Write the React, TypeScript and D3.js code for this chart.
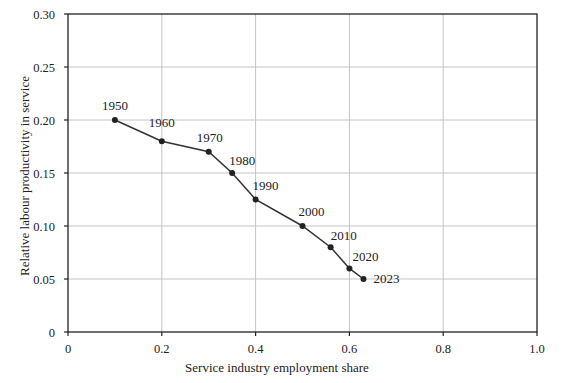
import React from "react";
import * as d3 from "d3";

const years = ["1950", "1960", "1970", "1980", "1990", "2000", "2010", "2020", "2023"];
const employmentShare = [0.1, 0.2, 0.3, 0.35, 0.4, 0.5, 0.56, 0.6, 0.63];
const productivity = [0.2, 0.18, 0.17, 0.15, 0.125, 0.1, 0.08, 0.06, 0.05];
const labelDx = [0, 0, 1, 10, 10, 9, 13, 16, 10];
const labelDy = [-10, -14, -10, -8, -10, -10, -7, -7, 4];
const xTicks = [0, 0.2, 0.4, 0.6, 0.8, 1.0];
const xTickLabels = ["0", "0.2", "0.4", "0.6", "0.8", "1.0"];
const yTicks = [0, 0.05, 0.1, 0.15, 0.2, 0.25, 0.3];
const yTickLabels = ["0", "0.05", "0.10", "0.15", "0.20", "0.25", "0.30"];

const W = 572, H = 383;
const left = 68, right = 537, top = 14, bottom = 332;
const font = "'Liberation Serif', 'Times New Roman', serif";

export default function App() {
  const x = d3.scaleLinear().domain([0, 1]).range([left, right]);
  const y = d3.scaleLinear().domain([0, 0.3]).range([bottom, top]);
  const pts = years.map((yr, i) => ({ yr, x: employmentShare[i], y: productivity[i], i }));
  const line = d3.line<typeof pts[0]>().x(d => x(d.x)).y(d => y(d.y));
  return (
    <svg width={W} height={H} style={{ position: "absolute", left: 0, top: 0, background: "#fff" }}>
      <rect width={W} height={H} fill="#fff" />
      {xTicks.slice(1, -1).map(t => (
        <line key={"gx" + t} x1={x(t)} x2={x(t)} y1={top} y2={bottom} stroke="#c4c4c4" strokeWidth={1} />
      ))}
      {yTicks.slice(1, -1).map(t => (
        <line key={"gy" + t} x1={left} x2={right} y1={y(t)} y2={y(t)} stroke="#c4c4c4" strokeWidth={1} />
      ))}
      <rect x={left} y={top} width={right - left} height={bottom - top} fill="none" stroke="#222" strokeWidth={1.3} />
      {xTicks.map((t, i) => (
        <g key={"xt" + t}>
          <line x1={x(t)} x2={x(t)} y1={bottom} y2={bottom + 4} stroke="#222" strokeWidth={1.2} />
          <text x={x(t)} y={bottom + 21} textAnchor="middle" fontFamily={font} fontSize={12.5} fill="#222">{xTickLabels[i]}</text>
        </g>
      ))}
      {yTicks.map((t, i) => (
        <g key={"yt" + t}>
          <line x1={left - 4} x2={left} y1={y(t)} y2={y(t)} stroke="#222" strokeWidth={1.2} />
          <text x={left - 13} y={y(t) + 4.5} textAnchor="end" fontFamily={font} fontSize={12.5} fill="#222">{yTickLabels[i]}</text>
        </g>
      ))}
      <path d={line(pts) || ""} fill="none" stroke="#333" strokeWidth={1.5} />
      {pts.map(p => (
        <circle key={"c" + p.yr} cx={x(p.x)} cy={y(p.y)} r={3} fill="#222" />
      ))}
      {pts.map(p => (
        <text key={"l" + p.yr} x={x(p.x) + labelDx[p.i]} y={y(p.y) + labelDy[p.i]}
          textAnchor={p.i === pts.length - 1 ? "start" : "middle"} fontFamily={font} fontSize={13} fill="#222">{p.yr}</text>
      ))}
      <text x={277} y={372} textAnchor="middle" fontFamily={font} fontSize={13} fill="#222">Service industry employment share</text>
      <text transform={`translate(29, 176) rotate(-90)`} textAnchor="middle" fontFamily={font} fontSize={13} fill="#222">Relative labour productivity in service</text>
    </svg>
  );
}
